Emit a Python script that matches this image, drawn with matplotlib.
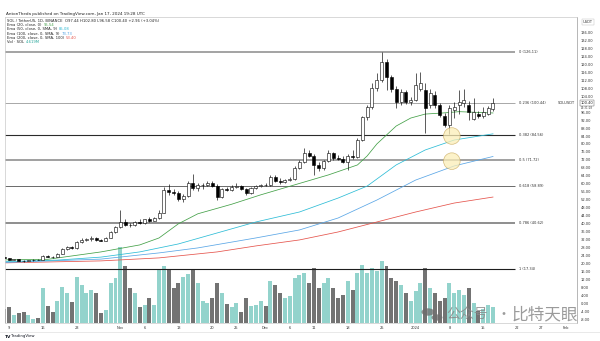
import numpy as np
import pandas as pd
import matplotlib
matplotlib.use('Agg')
import matplotlib.pyplot as plt
import matplotlib.dates as mdates
from matplotlib.patches import Rectangle, Ellipse, Circle

# ---- data (SOL/USDT daily, Binance) ----
dates = pd.date_range('2023-10-08', '2024-01-17', freq='D')
opens = [23.2, 22.8, 22.0, 22.1, 21.5, 21.2, 21.6, 21.9, 21.8, 23.9, 23.5, 23.3, 24.9, 27.2, 28.4,
         27.9, 30.9, 31.9, 32.4, 32.8, 31.8, 31.6, 33.0, 35.9, 38.3, 40.9, 39.6, 39.2, 40.8, 40.4,
         42.2, 41.6, 43.0, 45.6, 56.8, 56.0, 55.4, 52.6, 54.0, 60.6, 58.0, 59.2, 59.6, 60.4, 59.0,
         53.4, 57.2, 56.9, 58.6, 59.0, 57.4, 55.4, 57.8, 59.0, 59.4, 59.2, 63.4, 61.6, 60.8, 61.8,
         62.4, 68.0, 71.2, 75.4, 74.2, 69.6, 68.0, 71.4, 75.4, 73.0, 72.6, 71.0, 74.0, 73.4, 82.0,
         93.4, 98.4, 108.0, 112.2, 121.2, 113.4, 107.6, 101.2, 106.0, 101.0, 102.0, 107.6, 107.2,
         99.4, 104.6, 99.6, 94.0, 89.6, 97.2, 99.4, 100.6, 99.6, 92.6, 95.2, 94.0, 95.2, 97.44]
highs = [23.4, 23.0, 22.5, 22.2, 21.7, 21.9, 22.1, 22.2, 24.6, 24.3, 24.0, 25.2, 27.8, 28.9, 28.9,
         31.5, 32.9, 33.0, 33.8, 33.2, 32.5, 33.4, 36.5, 38.8, 46.9, 42.2, 40.3, 41.2, 42.5, 42.6,
         43.2, 43.4, 46.9, 58.6, 59.8, 57.6, 56.6, 55.0, 61.2, 65.0, 60.5, 60.4, 61.2, 61.5, 59.8,
         58.0, 58.2, 59.4, 60.2, 59.6, 57.8, 58.4, 59.6, 60.0, 60.4, 64.4, 64.6, 63.2, 62.4, 63.6,
         69.0, 71.8, 78.0, 77.0, 75.0, 71.2, 72.0, 77.0, 76.2, 74.4, 74.0, 74.8, 77.0, 83.0, 94.0,
         99.6, 110.6, 115.6, 126.11, 122.4, 114.4, 109.0, 107.6, 107.0, 103.6, 115.6, 116.0, 110.6,
         107.4, 106.6, 100.4, 95.6, 99.6, 101.2, 107.2, 107.6, 101.4, 103.0, 96.4, 98.6, 99.2, 102.80]
lows = [22.6, 21.8, 21.7, 21.3, 21.0, 21.1, 21.5, 21.6, 21.7, 23.2, 23.0, 23.2, 24.7, 26.8, 27.4,
        27.6, 30.2, 31.2, 31.6, 31.2, 31.3, 31.4, 32.8, 35.3, 37.8, 38.9, 38.6, 39.0, 40.0, 40.1,
        40.8, 41.2, 42.6, 45.2, 54.2, 54.4, 51.6, 50.8, 53.6, 57.0, 56.2, 57.6, 58.8, 58.4, 51.8,
        53.0, 56.4, 56.6, 58.0, 57.0, 54.6, 55.0, 57.4, 58.2, 58.8, 59.0, 61.0, 59.8, 60.2, 61.2,
        62.0, 67.6, 70.6, 73.4, 64.6, 66.6, 66.8, 70.8, 72.0, 72.0, 70.6, 67.0, 72.6, 73.0, 81.4,
        91.8, 97.6, 106.4, 111.0, 107.0, 106.2, 98.0, 99.6, 99.8, 99.6, 101.4, 106.6, 85.6,
        98.0, 97.8, 93.6, 88.6, 84.8, 93.2, 94.8, 98.6, 92.0, 91.8, 93.0, 93.2, 94.4, 96.58]
closes = [22.8, 22.0, 22.1, 21.5, 21.2, 21.6, 21.9, 21.8, 23.9, 23.5, 23.3, 24.9, 27.2, 28.4, 27.9,
          30.9, 31.9, 32.4, 32.8, 31.8, 31.6, 33.0, 35.9, 38.3, 40.9, 39.6, 39.2, 40.8, 40.4, 42.2,
          41.6, 43.0, 45.6, 56.8, 56.0, 55.4, 52.6, 54.0, 60.6, 58.0, 59.2, 59.6, 60.4, 59.0, 53.4,
          57.2, 56.9, 58.6, 59.0, 57.4, 55.4, 57.8, 59.0, 59.4, 59.2, 63.4, 61.6, 60.8, 61.8, 62.4,
          68.0, 71.2, 75.4, 74.2, 69.6, 68.0, 71.4, 75.4, 73.0, 72.6, 71.0, 74.0, 73.4, 82.0, 93.4,
          98.4, 108.0, 112.2, 121.2, 113.4, 107.6, 101.2, 106.0, 101.0, 102.0, 109.6, 110.4, 98.0,
          105.4, 99.6, 94.6, 89.6, 98.0, 98.6, 101.0, 102.2, 96.0, 96.0, 93.8, 95.8, 98.0, 100.40]
volumes = [4.2, 4.8, 2.4, 3.0, 3.3, 2.4, 1.2, 1.5, 10.4, 5.0, 3.3, 6.5, 10.7, 8.9, 6.2,
           13.7, 11.3, 8.9, 9.8, 8.9, 3.0, 3.9, 11.9, 13.4, 22.6, 16.9, 10.4, 8.9, 4.8, 5.3,
           7.4, 5.3, 15.7, 16.9, 16.0, 10.4, 11.9, 13.7, 14.6, 16.0, 11.9, 6.5, 5.9, 7.4, 11.9,
           8.9, 5.6, 4.8, 5.9, 3.3, 7.4, 5.0, 5.3, 6.5, 5.0, 12.5, 11.3, 8.9, 7.4, 8.0,
           13.4, 14.3, 14.9, 11.9, 16.3, 10.4, 11.9, 13.4, 10.4, 7.4, 8.3, 12.5, 9.8, 14.9, 17.2,
           14.9, 16.3, 15.4, 18.4, 16.9, 13.4, 12.5, 11.3, 8.9, 6.5, 9.5, 11.9, 16.3,
           10.4, 8.9, 6.5, 7.4, 11.9, 8.9, 9.8, 8.3, 10.4, 5.9, 3.6, 4.2, 5.3, 4.619]

ema20_dates = ['2023-10-08', '2023-10-17', '2023-10-28', '2023-11-05', '2023-11-09', '2023-11-13',
               '2023-11-17', '2023-11-24', '2023-11-30', '2023-12-07', '2023-12-14', '2023-12-20',
               '2023-12-22', '2023-12-24', '2023-12-28', '2023-12-31', '2024-01-03', '2024-01-07',
               '2024-01-10', '2024-01-17']
ema20_vals = [21.9, 22.2, 25.9, 29.4, 32.9, 40.0, 45.0, 49.8, 54.5, 59.5, 64.5, 69.5,
              74.0, 80.0, 89.0, 93.0, 95.0, 95.6, 96.2, 95.54]
ema50_dates = ['2023-10-08', '2023-10-19', '2023-10-28', '2023-11-05', '2023-11-13', '2023-11-21',
               '2023-11-29', '2023-12-08', '2023-12-16', '2023-12-22', '2023-12-28', '2024-01-03',
               '2024-01-09', '2024-01-17']
ema50_vals = [21.0, 21.8, 23.3, 25.9, 29.9, 35.4, 40.9, 45.9, 52.9, 58.9, 69.5, 77.0, 82.0, 85.08]
ema100_dates = ['2023-10-08', '2023-10-28', '2023-11-09', '2023-11-17', '2023-11-29', '2023-12-08',
                '2023-12-16', '2023-12-24', '2024-01-01', '2024-01-09', '2024-01-17']
ema100_vals = [20.6, 22.3, 25.4, 27.9, 32.9, 36.9, 42.9, 51.9, 61.9, 69.0, 73.73]
ema200_dates = ['2023-10-08', '2023-10-28', '2023-11-09', '2023-11-21', '2023-11-29', '2023-12-08',
                '2023-12-16', '2023-12-24', '2024-01-01', '2024-01-09', '2024-01-17']
ema200_vals = [20.4, 21.4, 22.9, 25.9, 28.9, 31.9, 35.9, 40.9, 45.9, 50.4, 53.40]

fib_high = 126.11
fib_low = 17.34
fib_levels = [0, 0.236, 0.382, 0.5, 0.618, 0.786, 1]

tick_dates = ['2023-10-09', '2023-10-16', '2023-10-23', '2023-11-01', '2023-11-06', '2023-11-13',
              '2023-11-20', '2023-11-25', '2023-12-01', '2023-12-06', '2023-12-11', '2023-12-18',
              '2023-12-25', '2024-01-01', '2024-01-08', '2024-01-15', '2024-01-22', '2024-01-27',
              '2024-02-01']
tick_labels = ['9', '16', '23', 'Nov', '6', '13', '20', '25', 'Dec', '6', '11', '18', '25', '2024',
               '8', '15', '22', '27', 'Feb']

legend_rows = [('SOL / TetherUS, 1D, BINANCE  O97.44 H102.80 L96.58 C100.40 +2.96 (+3.04%)', '', 'k'),
               ('Ema (20, close, 0)', '95.54', '#43a047'),
               ('Ema (50, close, 0, SMA, 9)', '85.08', '#26b6d0'),
               ('Ema (100, close, 0, SMA, 9)', '73.73', '#4f9fe0'),
               ('Ema (200, close, 0, SMA, 100)', '53.40', '#e5534b'),
               ('Vol · SOL', '4.619M', '#26a69a')]

circle_dates = ['2024-01-08', '2024-01-08']
circle_prices = [84.0, 71.4]

# ---- figure layout (pixel based, 600x341) ----
W, H = 600, 341
fig = plt.figure(figsize=(6, 3.41), dpi=100)
fig.patch.set_facecolor('white')


def fx(px):
    return px / W


def fy(py):
    return 1 - py / H


rect = [fx(5), fy(323), fx(577) - fx(5), fy(17) - fy(323)]
axv = fig.add_axes(rect)
ax = fig.add_axes(rect)
ax.patch.set_alpha(0)

d0 = mdates.date2num(pd.Timestamp('2023-10-09'))
xlim = (d0 - 0.83, d0 + 117.36)
ylim = (-9.73, 143.65)

x = mdates.date2num(dates)
o = np.array(opens); h = np.array(highs); l = np.array(lows); c = np.array(closes)
up = c >= o

# volume (own hidden scale, bottom of the pane)
vcol = np.where(up, '#93d3cc', '#737373')
axv.bar(x, volumes, width=0.82, color=vcol, linewidth=0)
axv.set_xlim(xlim)
axv.set_ylim(0, 90.5)
axv.axis('off')

# fibonacci retracement
fib_end = mdates.date2num(pd.Timestamp('2024-01-21 12:00'))
fib_styles = {0: ('#a3a3a3', 1.4), 0.236: ('#a8a8a8', 0.7), 0.382: ('#2b2b2b', 0.8),
              0.5: ('#a0a0a0', 1.4), 0.618: ('#6a6a6a', 0.7), 0.786: ('#8e8e8e', 1.4),
              1: ('#1e1e1e', 0.8)}
for lev in fib_levels:
    price = fib_high - lev * (fib_high - fib_low)
    col, lw = fib_styles[lev]
    ax.plot([xlim[0], fib_end], [price, price], color=col, lw=lw, solid_capstyle='butt', zorder=1)
    ax.text(fib_end + 0.8, price, '%g (%.2f)' % (lev, price), fontsize=2.6, color='#333333',
            va='center', ha='left', zorder=5)

# EMAs
for dts, vals, col in [(ema200_dates, ema200_vals, '#e5534b'),
                       (ema100_dates, ema100_vals, '#5aa6e6'),
                       (ema50_dates, ema50_vals, '#2cbcd6'),
                       (ema20_dates, ema20_vals, '#43a047')]:
    ax.plot(mdates.date2num(pd.to_datetime(dts)), vals, color=col, lw=0.55, zorder=2)

# candles
ax.vlines(x, l, h, color='black', lw=0.45, zorder=3)
bw = 0.62
for xi, oi, ci, u in zip(x, o, c, up):
    lo, hi = min(oi, ci), max(oi, ci)
    ax.add_patch(Rectangle((xi - bw / 2, lo), bw, max(hi - lo, 0.25),
                           facecolor='white' if u else 'black', edgecolor='black',
                           lw=0.4, zorder=4))

# highlight circles
for dt, pr in zip(circle_dates, circle_prices):
    cx = mdates.date2num(pd.Timestamp(dt)) + 0.5
    ax.add_patch(Ellipse((cx, pr), 16.6 / 4.84, 16.6 / 1.995, facecolor='#fbeeb8',
                         edgecolor='#c8a85a', lw=0.5, alpha=0.75, zorder=5))

ax.set_xlim(xlim)
ax.set_ylim(ylim)

# right price scale
yt = [v for v in np.arange(-8, 137, 4) if v != 100]
ax.yaxis.tick_right()
ax.set_yticks(yt)
ax.set_yticklabels(['%.2f' % v for v in yt])
ax.tick_params(axis='y', length=0, pad=2.5, labelsize=2.6, labelcolor='#333333')

# date scale
ax.set_xticks(mdates.date2num(pd.to_datetime(tick_dates)))
ax.set_xticklabels(tick_labels)
ax.tick_params(axis='x', length=0, pad=2.2, labelsize=2.6, labelcolor='#333333')

for s in ax.spines.values():
    s.set_color('#c9c9c9')
    s.set_linewidth(0.5)
ax.spines['right'].set_color('#9a9a9a')

# last price tag + countdown + symbol
last = closes[-1]
yfrac = (last - ylim[0]) / (ylim[1] - ylim[0])
ax.text(1.006, yfrac, '%.2f' % last, transform=ax.transAxes,
        fontsize=2.6, color='#222222', va='center', ha='left', clip_on=False,
        bbox=dict(boxstyle='square,pad=0.25', fc='white', ec='#555555', lw=0.3))
ax.text(1.006, yfrac - 0.016, '04:31:28', transform=ax.transAxes,
        fontsize=2.0, color='#444444', va='center', ha='left', clip_on=False)
ax.text(0.997, yfrac, 'SOLUSDT', transform=ax.transAxes, fontsize=2.6,
        color='#333333', va='center', ha='right')
fig.text(fx(583), fy(22), 'USDT', fontsize=2.6, color='#333333', va='center', ha='left',
         bbox=dict(boxstyle='square,pad=0.3', fc='white', ec='#bbbbbb', lw=0.3))

# header + legend
fig.text(fx(6), fy(14), 'AntonTheda published on TradingView.com, Jan 17, 2024 19:28 UTC',
         fontsize=3.0, color='#222222', va='center')
for i, (lab, val, col) in enumerate(legend_rows):
    t = fig.text(fx(7), fy(21 + i * 4.25), lab, fontsize=2.7, color='#222222', va='center')
    if val:
        plt.annotate(val, xy=(1, 0.5), xycoords=t, xytext=(1.5, 0), textcoords='offset points',
                     fontsize=2.7, color=col, va='center', ha='left', annotation_clip=False)

# bottom strip + logo
fig.add_artist(plt.Line2D([fx(0), fx(600)], [fy(332), fy(332)], color='#e0e0e0', lw=0.5))
fig.text(fx(5), fy(336.5), 'TV', fontsize=3.2, fontweight='bold', color='#131722', va='center')
fig.text(fx(11), fy(336.5), 'TradingView', fontsize=2.8, color='#131722', va='center')

# watermark
fig.add_artist(Circle((fx(428), fy(312)), 6.5 / W, transform=fig.transFigure,
                      color='#6d6d6d', alpha=0.75, lw=0))
fig.add_artist(Circle((fx(437), fy(317.5)), 5.5 / W, transform=fig.transFigure,
                      color='#6d6d6d', alpha=0.75, lw=0))
wm_font = ['Noto Sans CJK SC', 'DejaVu Sans']
fig.text(fx(446), fy(315), '公众号', fontsize=10, color='#8a8a8a', alpha=0.85,
         va='center', ha='left', family=wm_font)
fig.text(fx(497), fy(315), '·', fontsize=10, color='#8a8a8a', alpha=0.85,
         va='center', ha='left', family=wm_font)
fig.text(fx(512), fy(315), '比特天眼', fontsize=12, color='#8a8a8a', alpha=0.85,
         va='center', ha='left', family=wm_font)

fig.savefig('out.png', dpi=100)
